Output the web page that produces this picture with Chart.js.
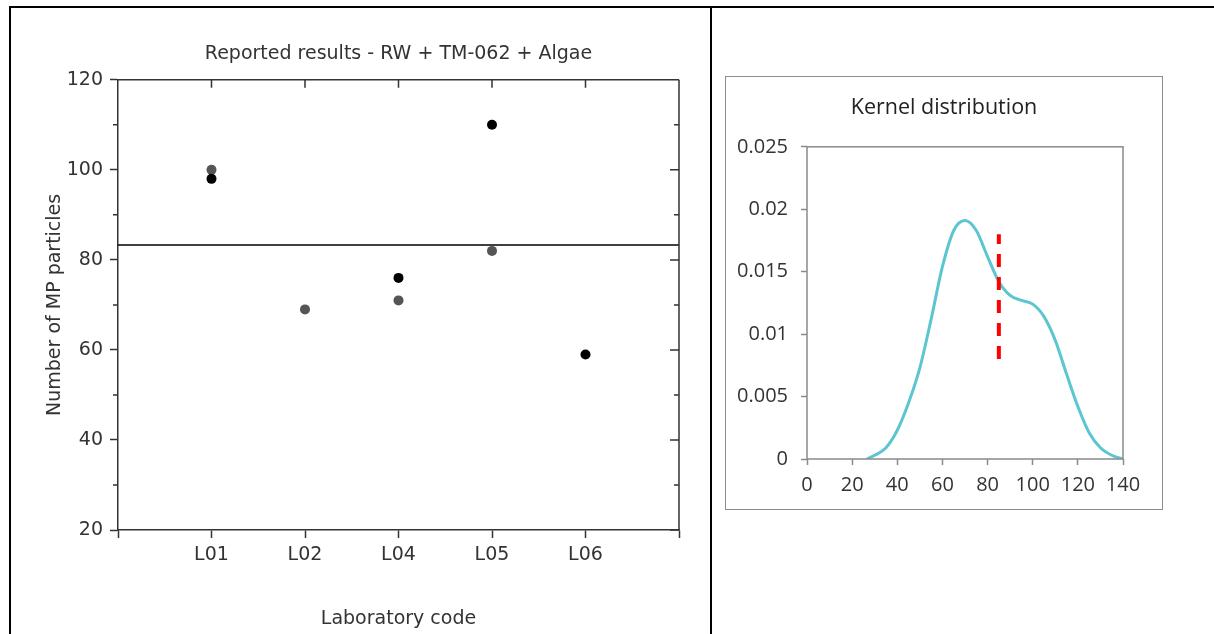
<!DOCTYPE html>
<html>
<head>
<meta charset="utf-8">
<script src="https://cdn.jsdelivr.net/npm/chart.js@4.4.1/dist/chart.umd.min.js"></script>
<style>
    body { margin: 0; background: #fff; width: 1214px; height: 634px; overflow: hidden; position: relative; }
    .rule { position: absolute; background: #000; }
    #leftWrap { position: absolute; left: 11px; top: 8px; width: 699px; height: 626px; }
    #rightBox { position: absolute; left: 725px; top: 76px; width: 436px; height: 432px; border: 1px solid #8c8c8c; }
</style>
</head>
<body>
<div class="rule" style="left:9px; top:6px; width:1205px; height:2px;"></div>
<div class="rule" style="left:9px; top:6px; width:2px; height:628px;"></div>
<div class="rule" style="left:710px; top:6px; width:2px; height:628px;"></div>

<div id="leftWrap"><canvas id="resultsChart" width="699" height="626"></canvas></div>
<div id="rightBox"><canvas id="kernelChart" width="436" height="432"></canvas></div>

<script>
// laboratory results (two replicates per lab, null = not reported / hidden)
const labCodes = ['L01', 'L02', 'L04', 'L05', 'L06']
const replicateA = [100, 69, 71, 82, null]   // grey points
const replicateB = [98, null, 76, 110, 59]   // black points
const assignedValue = 83.3

// kernel density
const kernelX = [26.5, 30, 35, 40, 45, 50, 55, 60, 65, 70, 75, 80, 85, 90, 95, 100, 105, 110, 115, 120, 125, 130, 135, 140]
const kernelY = [0, 0.0003, 0.0009, 0.0023, 0.0045, 0.0073, 0.0112, 0.0154, 0.0183, 0.0191, 0.0183, 0.0162, 0.0142, 0.0131, 0.0127, 0.0124, 0.0114, 0.0095, 0.0068, 0.0042, 0.0021, 0.0009, 0.0003, 0]
const kernelYLabels = ['0', '0.005', '0.01', '0.015', '0.02', '0.025']
const markerX = 85
const markerY = [0.008, 0.018]

function toPoints(values){
    //turns a per-lab list into scatter points, skipping gaps
    let pts = []
    values.forEach((v, i) => {
        if (v !== null) pts.push({x: i + 1, y: v})
    })
    return pts
}

const axisColor = '#333'

/**draws the top/right frame and the minor + mirrored ticks of the results chart */
const resultsFrame = {
    id: 'resultsFrame',
    afterDraw(chart){
        const c = chart.ctx
        const a = chart.chartArea
        const ys = chart.scales.y
        const xs = chart.scales.x
        c.save()
        c.strokeStyle = axisColor
        c.lineWidth = 1.5
        c.beginPath()
        c.moveTo(a.left, a.top); c.lineTo(a.right, a.top)
        c.moveTo(a.right, a.top); c.lineTo(a.right, a.bottom)
        for (let v = 20; v <= 120; v += 10){
            let py = ys.getPixelForValue(v)
            let major = v % 20 === 0
            if (!major){
                c.moveTo(a.left - 5, py); c.lineTo(a.left, py)
            }
            c.moveTo(a.right - (major ? 9 : 5), py); c.lineTo(a.right, py)
        }
        for (let i = 1; i <= labCodes.length; i++){
            let px = xs.getPixelForValue(i)
            c.moveTo(px, a.top); c.lineTo(px, a.top + 8)
        }
        c.stroke()
        c.restore()
    }
}

new Chart($id('resultsChart'), {
    type: 'scatter',
    data: {
        datasets: [{
            label: 'Replicate 2',
            data: toPoints(replicateB),
            backgroundColor: '#000',
            borderWidth: 0,
            pointRadius: 5
        }, {
            label: 'Replicate 1',
            data: toPoints(replicateA),
            backgroundColor: '#555',
            borderWidth: 0,
            pointRadius: 5
        }, {
            label: 'Assigned value',
            type: 'line',
            data: [{x: 0, y: assignedValue}, {x: labCodes.length + 1, y: assignedValue}],
            borderColor: '#000',
            borderWidth: 1.3,
            pointRadius: 0
        }]
    },
    options: {
        responsive: false,
        animation: false,
        layout: { padding: { left: 0, right: 31, top: 0, bottom: 0 } },
        plugins: {
            legend: { display: false },
            tooltip: { enabled: false },
            title: {
                display: true,
                fullSize: false,
                text: 'Reported results - RW + TM-062 + Algae',
                color: axisColor,
                font: { family: 'DejaVu Sans', size: 19, weight: 'normal' },
                padding: { top: 35, bottom: 14 }
            }
        },
        scales: {
            x: {
                type: 'linear',
                min: 0,
                max: labCodes.length + 1,
                afterFit: (s) => { s.height = 104 },
                ticks: {
                    stepSize: 1,
                    padding: 6,
                    color: axisColor,
                    font: { family: 'DejaVu Sans', size: 19 },
                    callback: (v) => labCodes[v - 1] || ''
                },
                grid: { drawOnChartArea: false, tickLength: 8, tickColor: axisColor, tickWidth: 1.5 },
                border: { color: axisColor, width: 1.5 },
                title: {
                    display: true,
                    text: 'Laboratory code',
                    color: axisColor,
                    font: { family: 'DejaVu Sans', size: 19 },
                    padding: { top: 0, bottom: 4 }
                }
            },
            y: {
                min: 20,
                max: 120,
                afterFit: (s) => { s.width = 107 },
                ticks: {
                    stepSize: 20,
                    padding: 7,
                    color: axisColor,
                    font: { family: 'DejaVu Sans', size: 19 }
                },
                grid: { drawOnChartArea: false, tickLength: 8, tickColor: axisColor, tickWidth: 1.5 },
                border: { color: axisColor, width: 1.5 },
                title: {
                    display: true,
                    text: 'Number of MP particles',
                    color: axisColor,
                    font: { family: 'DejaVu Sans', size: 19 },
                    padding: { top: 33, bottom: 0 }
                }
            }
        }
    },
    plugins: [resultsFrame]
})

/**grey box round the kernel plot area */
const kernelFrame = {
    id: 'kernelFrame',
    afterDraw(chart){
        const c = chart.ctx
        const a = chart.chartArea
        c.save()
        c.strokeStyle = '#8a8a8a'
        c.lineWidth = 1.5
        c.strokeRect(a.left, a.top, a.right - a.left, a.bottom - a.top)
        c.restore()
    }
}

const kernelFont = { family: 'Open Sans', size: 20 }

new Chart($id('kernelChart'), {
    type: 'scatter',
    data: {
        datasets: [{
            label: 'Assigned value',
            data: markerY.map(y => ({x: markerX, y: y})),
            showLine: true,
            borderColor: '#ff0000',
            borderWidth: 4,
            borderDash: [13, 10],
            pointRadius: 0
        }, {
            label: 'Kernel',
            data: kernelX.map((x, i) => ({x: x, y: kernelY[i]})),
            showLine: true,
            borderColor: '#5bc5d0',
            borderWidth: 3,
            cubicInterpolationMode: 'monotone',
            pointRadius: 0
        }]
    },
    options: {
        responsive: false,
        animation: false,
        layout: { padding: 0 },
        plugins: {
            legend: { display: false },
            tooltip: { enabled: false },
            title: {
                display: true,
                text: 'Kernel distribution',
                color: '#222',
                font: { family: 'Open Sans', size: 21.5, weight: 'normal' },
                padding: { top: 18, bottom: 26 }
            }
        },
        scales: {
            x: {
                type: 'linear',
                min: 0,
                max: 140,
                afterFit: (s) => { s.height = 50 },
                ticks: { stepSize: 20, padding: 8, color: '#333', font: kernelFont },
                grid: { drawOnChartArea: false, tickLength: 6, tickColor: '#8a8a8a', tickWidth: 1.5 },
                border: { display: false }
            },
            y: {
                min: 0,
                max: 0.025,
                afterFit: (s) => { s.width = 81 },
                ticks: {
                    stepSize: 0.005,
                    padding: 13,
                    color: '#333',
                    font: kernelFont,
                    callback: (v, i) => kernelYLabels[i]
                },
                grid: { drawOnChartArea: false, tickLength: 6, tickColor: '#8a8a8a', tickWidth: 1.5 },
                border: { display: false }
            },
            // empty right axis, only keeps space so the title stays centred on the box
            spacer: {
                position: 'right',
                min: 0,
                max: 1,
                afterFit: (s) => { s.width = 39 },
                ticks: { display: false },
                grid: { display: false },
                border: { display: false }
            }
        }
    },
    plugins: [kernelFrame]
})

function $id(id){
    return document.getElementById(id)
}
</script>
</body>
</html>
